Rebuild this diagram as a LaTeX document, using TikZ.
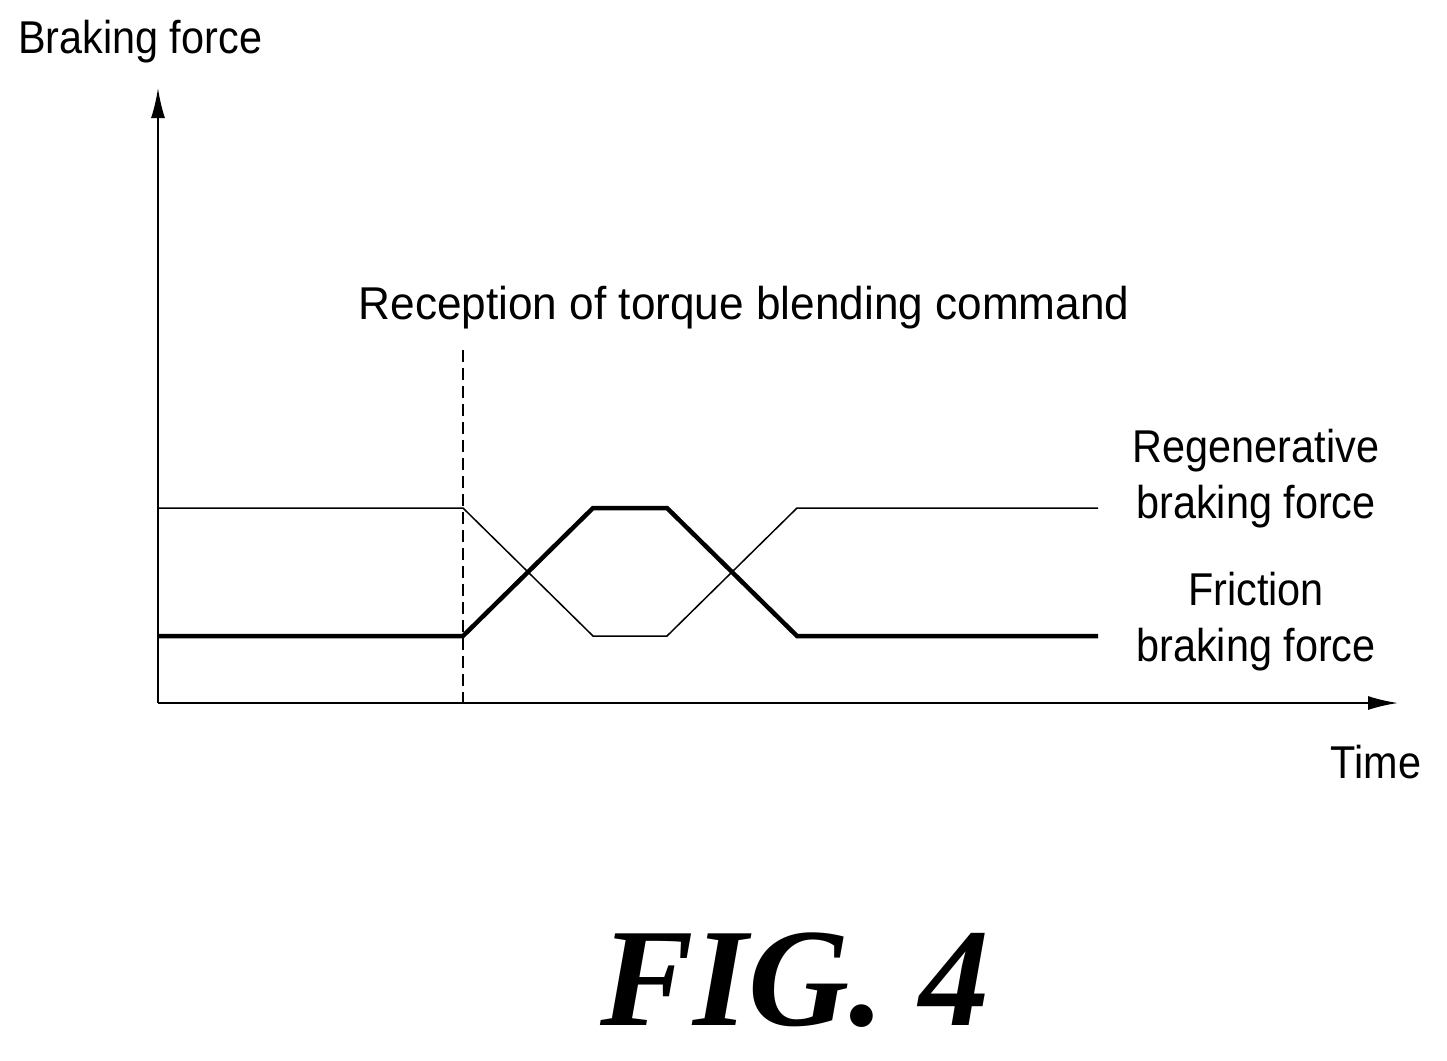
\documentclass[tikz,border=0pt]{standalone}
\usepackage{fontspec}
\usetikzlibrary{arrows.meta}
\setmainfont{Liberation Sans}
\newfontfamily\figfont{Liberation Serif}
\begin{document}
\begin{tikzpicture}[x=1pt,y=-1pt,
  lbl/.style={font=\fontsize{46}{56}\selectfont,inner sep=0pt},
  thin/.style={line width=1.5pt},
  thick/.style={line width=4.5pt,line join=miter}]
\useasboundingbox (0,0) rectangle (1447,1060);
\coordinate (O) at (158,703);
\coordinate (Y) at (158,88);
\coordinate (X) at (1398,703);
\draw[line width=2pt,-{Latex[length=30pt,width=14pt]}] (O) -- (Y);
\draw[line width=2pt,-{Latex[length=30pt,width=14pt]}] (O) -- (X);
\node[lbl,anchor=west,xscale=0.9] (yl) at (18,42) {Braking force};
\node[lbl,xscale=0.9] (xl) at (1376,762) {Time};
\coordinate (d1) at (463,350);
\coordinate (d2) at (463,703);
\draw[line width=1.5pt,dash pattern=on 12pt off 6pt] (d1) -- (d2);
\node[lbl,xscale=0.96] (rc) at (744,308) {Reception of torque blending command};
\draw[thin] (158,508) -- (463,508) -- (593,636) -- (667,636) -- (797,508) -- (1098,508);
\draw[thick] (158,636) -- (463,636) -- (593,508) -- (667,508) -- (797,636) -- (1098,636);
\node[lbl,align=center,xscale=0.9] (rg) at (1256,479) {Regenerative\\braking force};
\node[lbl,align=center,xscale=0.9] (fr) at (1256,622) {Friction\\braking force};
\node[inner sep=0pt,font=\figfont\bfseries\itshape\fontsize{140}{140}\selectfont] (fig) at (795,980) {FIG. 4};
\end{tikzpicture}
\end{document}
